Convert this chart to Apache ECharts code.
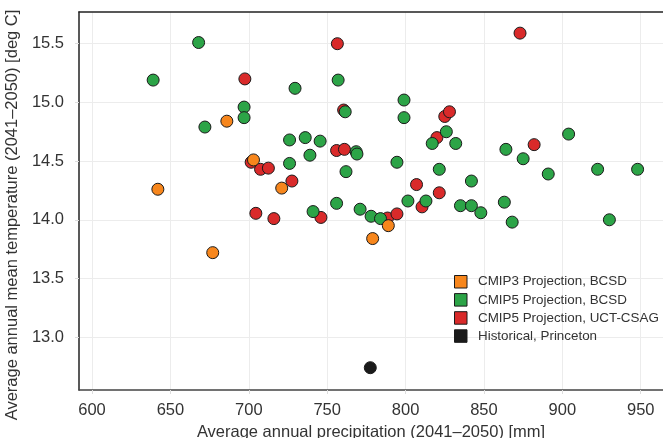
<!DOCTYPE html>
<html>
<head>
<meta charset="utf-8">
<script src="https://cdn.jsdelivr.net/npm/echarts@6/dist/echarts.min.js"></script>
<style>
html, body { margin: 0; padding: 0; background: #fff; }
#chart { width: 663px; height: 438px; }
</style>
</head>
<body>
<div id="chart"></div>
<script>
// data: [precipitation mm, temperature deg C]
var cmip3Bcsd = [
	[686, 14.84], [703, 14.51], [721, 14.27], [642, 14.26],
	[677, 13.72], [779, 13.84], [789, 13.95]
];
var cmip5Bcsd = [
	[668, 15.51], [639, 15.19], [729.5, 15.12], [697, 14.96], [697, 14.87],
	[672, 14.79], [726, 14.68], [736, 14.70], [745.5, 14.67], [739, 14.55],
	[726, 14.48], [741, 14.07], [757, 15.19], [799, 15.02], [799, 14.87],
	[761.5, 14.92], [826, 14.75], [817, 14.65], [832, 14.65], [768.5, 14.58],
	[769, 14.56], [762, 14.41], [794.5, 14.49], [864, 14.60], [875, 14.52],
	[904, 14.73], [891, 14.39], [922.5, 14.43], [948, 14.43], [821.5, 14.43],
	[842, 14.33], [756, 14.14], [771, 14.09], [778, 14.03], [784, 14.01],
	[801.5, 14.16], [813, 14.16], [835, 14.12], [842, 14.12], [848, 14.06],
	[863, 14.15], [868, 13.98], [930, 14.00]
];
var cmip5Uct = [
	[697.5, 15.20], [873, 15.59], [756.5, 15.50], [760.5, 14.935], [825, 14.88],
	[828, 14.92], [820, 14.70], [756, 14.59], [761, 14.60], [882, 14.64],
	[707.5, 14.43], [712.5, 14.44], [727.5, 14.33], [807, 14.30], [821.5, 14.23],
	[704.5, 14.055], [716, 14.01], [746, 14.02], [788.5, 14.015], [794.5, 14.05],
	[810.5, 14.11], [701.5, 14.49]
];
var historical = [[777.5, 12.74]];

var xTicks = [600, 650, 700, 750, 800, 850, 900, 950];
var yTicks = [13.0, 13.5, 14.0, 14.5, 15.0, 15.5];

var seriesNames = ['CMIP3 Projection, BCSD', 'CMIP5 Projection, BCSD', 'CMIP5 Projection, UCT-CSAG', 'Historical, Princeton'];
var colors = ['#f7861c', '#2ca447', '#d92a2a', '#1a1a1a'];

var myChart = echarts.init(document.getElementById('chart'));

function dots(name, data, color) {
	return {
		name: name,
		type: 'scatter',
		data: data,
		symbol: 'circle',
		symbolSize: 12,
		itemStyle: { color: color, borderColor: '#1a1a1a', borderWidth: 1, opacity: 1 }
	};
}

var fontName = 'Liberation Sans';

var option = {
	animation: false,
	color: colors,
	grid: { left: 79, top: 12, right: 0, bottom: 48, containLabel: false, outerBoundsMode: 'none' },
	legend: {
		data: seriesNames,
		orient: 'vertical',
		left: 449,
		top: 270,
		itemWidth: 12.5,
		itemHeight: 12.5,
		itemGap: 4.6,
		icon: 'rect',
		itemStyle: { borderColor: '#1a1a1a', borderWidth: 1 },
		textStyle: { fontFamily: fontName, fontSize: 13.4, color: '#333', padding: [0, 0, 0, 6] }
	},
	xAxis: [{
		type: 'value',
		min: 591.7,
		max: 964.2,
		name: 'Average annual precipitation (2041\u20132050) [mm]',
		nameLocation: 'middle',
		nameGap: 34,
		nameTextStyle: { fontFamily: fontName, fontSize: 16.5, color: '#333' },
		axisLine: { lineStyle: { color: '#444', width: 1.5 } },
		axisTick: { show: true, length: 4, customValues: xTicks, lineStyle: { color: '#ddd' } },
		axisLabel: { customValues: xTicks, margin: 11.5, fontFamily: fontName, fontSize: 16.5, color: '#333' },
		splitLine: { show: true, customValues: xTicks, lineStyle: { color: '#ececec' } }
	}, {
		type: 'value',
		position: 'top',
		min: 591.7,
		max: 964.2,
		axisLine: { show: true, lineStyle: { color: '#222', width: 1.5 } },
		axisTick: { show: false },
		axisLabel: { show: false },
		splitLine: { show: false }
	}],
	yAxis: {
		type: 'value',
		min: 12.55,
		max: 15.77,
		name: 'Average annual mean temperature (2041\u20132050) [deg C]',
		nameLocation: 'middle',
		nameGap: 55,
		nameTextStyle: { fontFamily: fontName, fontSize: 16.5, color: '#333', padding: [0, 28, 0, 0] },
		axisLine: { show: true, lineStyle: { color: '#222', width: 1.5 } },
		axisTick: { show: true, length: 4, customValues: yTicks, lineStyle: { color: '#ddd' } },
		axisLabel: {
			customValues: yTicks, margin: 15, fontFamily: fontName, fontSize: 16.5, color: '#333',
			formatter: function(v) { return v.toFixed(1); }
		},
		splitLine: { show: true, customValues: yTicks, lineStyle: { color: '#ececec' } }
	},
	series: [
		dots(seriesNames[2], cmip5Uct, colors[2]),
		dots(seriesNames[1], cmip5Bcsd, colors[1]),
		dots(seriesNames[0], cmip3Bcsd, colors[0]),
		dots(seriesNames[3], historical, colors[3])
	]
};
myChart.setOption(option);
</script>
</body>
</html>
